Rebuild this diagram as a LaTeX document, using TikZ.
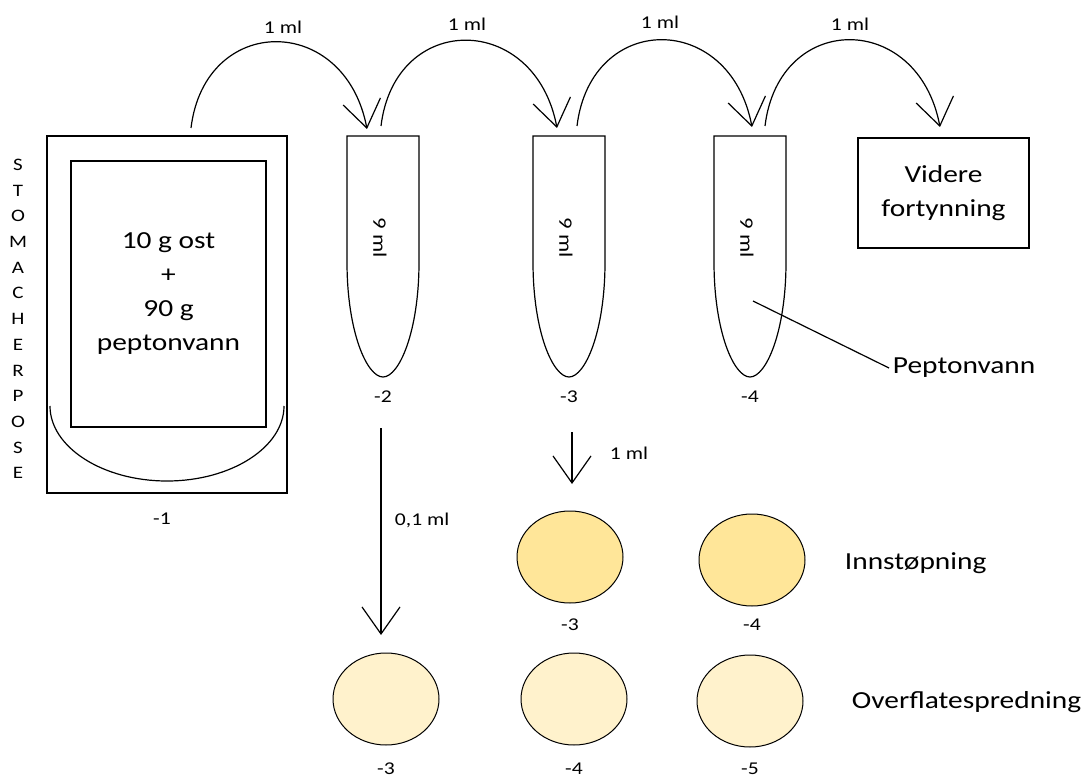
\documentclass[tikz,border=0pt]{standalone}
\usepackage{fontspec}
\setmainfont{Carlito}[FakeStretch=1.2]
\usetikzlibrary{arrows.meta,shapes.geometric}
\definecolor{plateA}{HTML}{FFE699}
\definecolor{plateB}{HTML}{FFF2CC}
\begin{document}
\begin{tikzpicture}[x=1pt,y=-1pt, line width=1.2pt,
  big/.style={font=\fontsize{24.5}{34}\selectfont},
  small/.style={font=\fontsize{18}{22}\selectfont},
  plate/.style={ellipse, draw, line width=1pt, minimum width=106, minimum height=92, inner sep=0pt},
  barb/.style={-{Straight Barb[length=27pt,width=38pt]}},
  box/.style={draw, inner sep=0pt}]
\useasboundingbox (0,0) rectangle (1089,778);

% stomacher bag
\node[box, minimum width=240, minimum height=357] (bag) at (167,314.5) {};
\node[box, minimum width=195, minimum height=266, big, align=center] (mix) at (168.5,294)
  {10 g ost\\+\\90 g\\peptonvann};
\draw (50,406) .. controls (50,447) and (102.4,481) .. (167,481)
               .. controls (231.6,481) and (284,447) .. (284,406);
\node[font=\fontsize{17.5}{25.7}\selectfont, align=center] (stlbl) at (18,319)
  {S\\T\\O\\M\\A\\C\\H\\E\\R\\P\\O\\S\\E};
\node[small] (l1) at (162,519) {-1};

% tubes
\foreach \cx/\nm in {383/2, 569/3, 750/4}{
  \draw ({\cx-36},136) -- ({\cx-36},262) .. controls ({\cx-36},332) and ({\cx-16},377) .. (\cx,377)
        .. controls ({\cx+16},377) and ({\cx+36},332) .. ({\cx+36},262) -- ({\cx+36},136) -- cycle;
  \node[font=\fontsize{19}{22}\selectfont, rotate=-90] (ml\nm) at ({\cx-3},238) {9 ml};
  \node[small] (tl\nm) at (\cx,397) {-\nm};
}

% further dilution box
\node[box, minimum width=171, minimum height=110, big, align=center] (vid) at (943.5,193)
  {Videre\\fortynning};

% transfer arcs
\coordinate (a1s) at (191,128); \coordinate (a1e) at (367,129);
\coordinate (a2s) at (381,126); \coordinate (a2e) at (557,128);
\coordinate (a3s) at (577,126); \coordinate (a3e) at (752,127);
\coordinate (a4s) at (765,126); \coordinate (a4e) at (940,127);
\foreach \i in {1,2,3,4}{
  \draw[barb] (a\i s) .. controls +(14,-115) and +(-22,-116) .. (a\i e);
}
\node[small] (m1) at (283,27) {1 ml};
\node[small] (m2) at (467,24) {1 ml};
\node[small] (m3) at (660,22) {1 ml};
\node[small] (m4) at (850,24) {1 ml};

% peptonvann label
\node[big, anchor=west] (pv) at (889,368) {Peptonvann};
\coordinate (pvpt) at (753,301);
\draw (pvpt) -- (pv.west);

% vertical arrows
\coordinate (v1s) at (381,428); \coordinate (v1e) at (381,635);
\coordinate (v2s) at (572,432); \coordinate (v2e) at (572,484);
\draw[barb] (v1s) -- (v1e);
\draw[barb] (v2s) -- (v2e);
\node[small, anchor=west] (l01) at (391,520) {0,1 ml};
\node[small, anchor=west] (l1ml) at (606,453) {1 ml};

% plates
\node[plate, fill=plateA] (i3) at (570,557) {};
\node[plate, fill=plateA] (i4) at (752,560) {};
\node[plate, fill=plateB] (o3) at (386,699) {};
\node[plate, fill=plateB] (o4) at (574,699) {};
\node[plate, fill=plateB] (o5) at (750,701) {};
\node[small] (li3) at (570,625) {-3};
\node[small] (li4) at (752,625) {-4};
\node[small] (lo3) at (386,769) {-3};
\node[small] (lo4) at (574,769) {-4};
\node[small] (lo5) at (750,769) {-5};
\node[big, anchor=west] (inn) at (841,563) {Innstøpning};
\node[big, anchor=west] (ovf) at (848,702) {Overflatespredning};
\end{tikzpicture}
\end{document}
